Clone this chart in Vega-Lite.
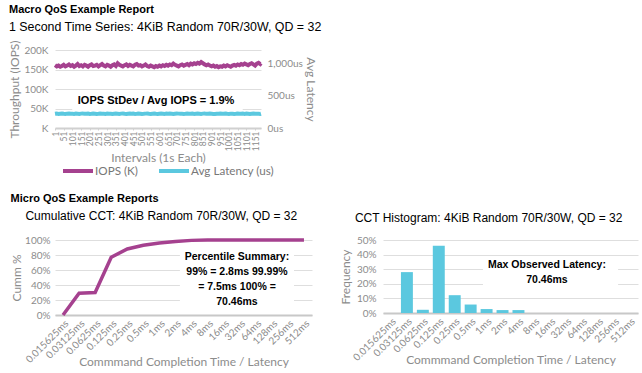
{
  "$schema": "https://vega.github.io/schema/vega-lite/v6.json",
  "background": "white",
  "padding": {"left": 8, "top": 4, "right": 2, "bottom": 2},
  "config": {
    "view": {"stroke": null},
    "font": "Lato",
    "axis": {"labelColor": "#8c8c8c", "titleColor": "#8c8c8c", "labelFont": "Lato", "titleFont": "Lato", "labelFontSize": 10, "titleFontSize": 12, "titleFontWeight": "normal", "gridColor": "#dedede", "domain": false, "ticks": false, "labelOverlap": false},
    "title": {"font": "Liberation Sans", "fontSize": 12, "fontWeight": "normal", "color": "#000000"}
  },
  "title": {"text": "Macro QoS Example Report", "subtitle": "1 Second Time Series: 4KiB Random 70R/30W, QD = 32", "anchor": "start", "frame": "bounds", "fontSize": 11, "fontWeight": "bold", "subtitleFont": "Liberation Sans", "subtitleFontSize": 12.4, "subtitleColor": "#000000", "subtitlePadding": 6, "offset": 6.5},
  "datasets": {
    "series": [
      {"t":1,"iops_k":161,"lat":218},{"t":11,"iops_k":158,"lat":222},{"t":21,"iops_k":160,"lat":216},{"t":31,"iops_k":157,"lat":220},{"t":41,"iops_k":159,"lat":224},{"t":51,"iops_k":162,"lat":219},{"t":61,"iops_k":158,"lat":215},{"t":71,"iops_k":160,"lat":221},{"t":81,"iops_k":163,"lat":223},{"t":91,"iops_k":159,"lat":218},
      {"t":101,"iops_k":161,"lat":220},{"t":111,"iops_k":157,"lat":217},{"t":121,"iops_k":160,"lat":222},{"t":131,"iops_k":164,"lat":219},{"t":141,"iops_k":159,"lat":216},{"t":151,"iops_k":161,"lat":221},{"t":161,"iops_k":158,"lat":224},{"t":171,"iops_k":162,"lat":218},{"t":181,"iops_k":160,"lat":220},{"t":191,"iops_k":157,"lat":222},
      {"t":201,"iops_k":161,"lat":217},{"t":211,"iops_k":163,"lat":219},{"t":221,"iops_k":159,"lat":223},{"t":231,"iops_k":160,"lat":220},{"t":241,"iops_k":162,"lat":216},{"t":251,"iops_k":158,"lat":218},{"t":261,"iops_k":161,"lat":222},{"t":271,"iops_k":164,"lat":221},{"t":281,"iops_k":160,"lat":219},{"t":291,"iops_k":158,"lat":217},
      {"t":301,"iops_k":162,"lat":223},{"t":311,"iops_k":160,"lat":220},{"t":321,"iops_k":157,"lat":218},{"t":331,"iops_k":161,"lat":215},{"t":341,"iops_k":163,"lat":219},{"t":351,"iops_k":159,"lat":222},{"t":361,"iops_k":166,"lat":220},{"t":371,"iops_k":162,"lat":217},{"t":381,"iops_k":160,"lat":221},{"t":391,"iops_k":158,"lat":224},
      {"t":401,"iops_k":161,"lat":219},{"t":411,"iops_k":163,"lat":216},{"t":421,"iops_k":159,"lat":220},{"t":431,"iops_k":162,"lat":223},{"t":441,"iops_k":160,"lat":218},{"t":451,"iops_k":158,"lat":221},{"t":461,"iops_k":162,"lat":217},{"t":471,"iops_k":164,"lat":219},{"t":481,"iops_k":160,"lat":222},{"t":491,"iops_k":161,"lat":220},
      {"t":501,"iops_k":158,"lat":216},{"t":511,"iops_k":160,"lat":218},{"t":521,"iops_k":163,"lat":221},{"t":531,"iops_k":159,"lat":224},{"t":541,"iops_k":157,"lat":219},{"t":551,"iops_k":160,"lat":217},{"t":561,"iops_k":158,"lat":220},{"t":571,"iops_k":156,"lat":222},{"t":581,"iops_k":159,"lat":218},{"t":591,"iops_k":157,"lat":215},
      {"t":601,"iops_k":160,"lat":219},{"t":611,"iops_k":158,"lat":223},{"t":621,"iops_k":161,"lat":220},{"t":631,"iops_k":159,"lat":217},{"t":641,"iops_k":162,"lat":221},{"t":651,"iops_k":160,"lat":218},{"t":661,"iops_k":163,"lat":222},{"t":671,"iops_k":161,"lat":219},{"t":681,"iops_k":165,"lat":216},{"t":691,"iops_k":162,"lat":220},
      {"t":701,"iops_k":160,"lat":224},{"t":711,"iops_k":158,"lat":221},{"t":721,"iops_k":161,"lat":218},{"t":731,"iops_k":163,"lat":220},{"t":741,"iops_k":160,"lat":217},{"t":751,"iops_k":162,"lat":219},{"t":761,"iops_k":164,"lat":223},{"t":771,"iops_k":161,"lat":220},{"t":781,"iops_k":165,"lat":218},{"t":791,"iops_k":163,"lat":221},
      {"t":801,"iops_k":166,"lat":216},{"t":811,"iops_k":164,"lat":219},{"t":821,"iops_k":167,"lat":222},{"t":831,"iops_k":165,"lat":220},{"t":841,"iops_k":169,"lat":217},{"t":851,"iops_k":166,"lat":221},{"t":861,"iops_k":163,"lat":224},{"t":871,"iops_k":161,"lat":218},{"t":881,"iops_k":163,"lat":219},{"t":891,"iops_k":160,"lat":222},
      {"t":901,"iops_k":158,"lat":220},{"t":911,"iops_k":160,"lat":217},{"t":921,"iops_k":157,"lat":215},{"t":931,"iops_k":159,"lat":219},{"t":941,"iops_k":156,"lat":221},{"t":951,"iops_k":158,"lat":223},{"t":961,"iops_k":157,"lat":218},{"t":971,"iops_k":160,"lat":220},{"t":981,"iops_k":158,"lat":222},{"t":991,"iops_k":161,"lat":219},
      {"t":1001,"iops_k":159,"lat":217},{"t":1011,"iops_k":157,"lat":221},{"t":1021,"iops_k":160,"lat":220},{"t":1031,"iops_k":162,"lat":216},{"t":1041,"iops_k":160,"lat":219},{"t":1051,"iops_k":163,"lat":223},{"t":1061,"iops_k":161,"lat":220},{"t":1071,"iops_k":164,"lat":218},{"t":1081,"iops_k":162,"lat":221},{"t":1091,"iops_k":165,"lat":217},
      {"t":1101,"iops_k":163,"lat":222},{"t":1111,"iops_k":161,"lat":219},{"t":1121,"iops_k":164,"lat":216},{"t":1131,"iops_k":166,"lat":220},{"t":1141,"iops_k":163,"lat":223},{"t":1151,"iops_k":160,"lat":218},{"t":1161,"iops_k":165,"lat":221},{"t":1171,"iops_k":167,"lat":219},{"t":1181,"iops_k":164,"lat":217},{"t":1185,"iops_k":166,"lat":220}
    ],
    "cct": [
      {"bin":"0.015625ms","cum":0,"freq":0},
      {"bin":"0.03125ms","cum":0.29,"freq":0.28},
      {"bin":"0.0625ms","cum":0.30,"freq":0.022},
      {"bin":"0.125ms","cum":0.77,"freq":0.46},
      {"bin":"0.25ms","cum":0.88,"freq":0.122},
      {"bin":"0.5ms","cum":0.93,"freq":0.058},
      {"bin":"1ms","cum":0.96,"freq":0.027},
      {"bin":"2ms","cum":0.98,"freq":0.02},
      {"bin":"4ms","cum":0.995,"freq":0.02},
      {"bin":"8ms","cum":1,"freq":0},
      {"bin":"16ms","cum":1,"freq":0},
      {"bin":"32ms","cum":1,"freq":0},
      {"bin":"64ms","cum":1,"freq":0},
      {"bin":"128ms","cum":1,"freq":0},
      {"bin":"256ms","cum":1,"freq":0},
      {"bin":"512ms","cum":1,"freq":0}
    ]
  },
  "spacing": 14,
  "resolve": {"scale": {"color": "independent"}, "legend": {"color": "independent"}},
  "vconcat": [
    {
      "width": 206,
      "height": 78,
      "layer": [
        {
          "layer": [
            {
              "data": {"name": "series"},
              "mark": {"type": "line", "strokeWidth": 4},
              "encoding": {
                "x": {"field": "t", "type": "quantitative", "scale": {"domain": [1, 1185], "nice": false, "zero": false},
                  "axis": {"values": [1,51,101,151,201,251,301,351,401,451,501,551,601,651,701,751,801,851,901,951,1001,1051,1101,1151], "tickCount": 50, "format": "d", "labelOverlap": false, "labelAngle": -90, "labelFontSize": 8.5, "labelPadding": 1, "title": "Intervals (1s Each)", "titlePadding": 2, "grid": false, "domain": true, "domainColor": "#d0d0d0", "domainWidth": 2, "ticks": true, "tickColor": "#d0d0d0", "tickSize": 2}},
                "y": {"field": "iops_k", "type": "quantitative", "scale": {"domain": [0, 200], "nice": false},
                  "axis": {"values": [0, 50, 100, 150, 200], "tickCount": 20, "labelOverlap": false, "labelExpr": "datum.value == 0 ? 'K' : datum.value + 'K'", "title": "Throughput (IOPS)", "titlePadding": 2, "labelPadding": 7, "grid": true}},
                "color": {"datum": "IOPS (K)", "type": "nominal", "scale": {"domain": ["IOPS (K)", "Avg Latency (us)"], "range": ["#A5418F", "#5BC8DF"]},
                  "legend": {"orient": "none", "legendX": 16, "legendY": 114, "padding": 0, "direction": "horizontal", "title": null, "symbolType": "M-3,0H3", "symbolStrokeWidth": 4, "symbolSize": 100, "labelOffset": 10, "labelFontSize": 11.7, "labelColor": "#777777", "labelFont": "Lato", "columnPadding": 13}}
              }
            },
            {
              "data": {"values": [{}]},
              "mark": {"type": "rect", "color": "white"},
              "encoding": {
                "x": {"datum": 100, "type": "quantitative"},
                "x2": {"datum": 1080},
                "y": {"datum": 44, "type": "quantitative"},
                "y2": {"datum": 90}
              }
            },
            {
              "data": {"values": [{}]},
              "mark": {"type": "text", "font": "Liberation Sans", "fontWeight": "bold", "fontSize": 11, "color": "#000000"},
              "encoding": {
                "x": {"datum": 582, "type": "quantitative"},
                "y": {"datum": 70, "type": "quantitative"},
                "text": {"value": "IOPS StDev / Avg IOPS = 1.9%"}
              }
            }
          ]
        },
        {
          "data": {"name": "series"},
          "mark": {"type": "line", "strokeWidth": 4},
          "encoding": {
            "x": {"field": "t", "type": "quantitative"},
            "y": {"field": "lat", "type": "quantitative", "scale": {"domain": [0, 1200], "nice": false},
              "axis": {"orient": "right", "values": [0, 500, 1000], "tickCount": 20, "labelOverlap": false, "labelExpr": "format(datum.value, ',') + 'us'", "title": "Avg Latency", "titlePadding": 1, "labelPadding": 6, "grid": false}},
            "color": {"datum": "Avg Latency (us)", "type": "nominal"}
          }
        }
      ],
      "resolve": {"scale": {"y": "independent"}}
    },
    {
      "title": {"text": "Micro QoS Example Reports", "anchor": "start", "frame": "bounds", "fontSize": 11, "fontWeight": "bold", "offset": 6},
      "spacing": 27,
      "hconcat": [
        {
          "width": 257,
          "height": 75,
          "title": {"text": "Cumulative CCT: 4KiB Random 70R/30W, QD = 32", "anchor": "middle", "frame": "bounds", "offset": 10},
          "layer": [
            {
              "data": {"name": "cct"},
              "mark": {"type": "line", "color": "#A5418F", "strokeWidth": 3.5},
              "encoding": {
                "x": {"field": "bin", "type": "nominal", "sort": null, "scale": {"type": "point", "padding": 0.5},
                  "axis": {"labelAngle": -45, "labelOverlap": false, "labelFontSize": 10, "labelPadding": 3, "title": "Commmand Completion Time / Latency", "titlePadding": -8, "domain": true, "domainColor": "#c8c8c8", "domainWidth": 2}},
                "y": {"field": "cum", "type": "quantitative", "scale": {"domain": [0, 1], "nice": false},
                  "axis": {"values": [0, 0.2, 0.4, 0.6, 0.8, 1], "tickCount": 20, "labelOverlap": false, "format": ".0%", "title": "Cumm %", "titlePadding": 1, "labelPadding": 5, "grid": true}}
              }
            },
            {
              "data": {"values": [{}]},
              "mark": {"type": "rect", "color": "white"},
              "encoding": {
                "x": {"datum": 0.486, "type": "quantitative", "scale": {"domain": [0, 1]}, "axis": null},
                "x2": {"datum": 0.93},
                "y": {"datum": 0.11, "type": "quantitative"},
                "y2": {"datum": 0.897}
              }
            },
            {
              "data": {"values": [{}]},
              "mark": {"type": "text", "font": "Liberation Sans", "fontWeight": "bold", "fontSize": 10.5, "lineHeight": 15, "color": "#000000", "baseline": "middle"},
              "encoding": {
                "x": {"datum": 0.708, "type": "quantitative", "scale": {"domain": [0, 1]}, "axis": null},
                "y": {"datum": 0.78, "type": "quantitative"},
                "text": {"value": ["Percentile Summary:", "99% = 2.8ms 99.99%", "= 7.5ms 100% =", "70.46ms"]}
              }
            }
          ],
          "resolve": {"scale": {"x": "independent"}}
        },
        {
          "width": 255,
          "height": 73,
          "title": {"text": "CCT Histogram: 4KiB Random 70R/30W, QD = 32", "anchor": "middle", "frame": "bounds", "offset": 10},
          "layer": [
            {
              "data": {"name": "cct"},
              "mark": {"type": "bar", "color": "#5BC8DF"},
              "encoding": {
                "x": {"field": "bin", "type": "nominal", "sort": null, "scale": {"paddingInner": 0.25, "paddingOuter": 0.125},
                  "axis": {"labelAngle": -45, "labelOverlap": false, "labelFontSize": 10, "labelPadding": 3, "title": "Commmand Completion Time / Latency", "titlePadding": -8, "domain": true, "domainColor": "#c8c8c8", "domainWidth": 2}},
                "y": {"field": "freq", "type": "quantitative", "scale": {"domain": [0, 0.5], "nice": false},
                  "axis": {"values": [0, 0.1, 0.2, 0.3, 0.4, 0.5], "tickCount": 20, "labelOverlap": false, "format": ".0%", "title": "Frequency", "titlePadding": 4, "labelPadding": 7, "grid": true}}
              }
            },
            {
              "data": {"values": [{}]},
              "mark": {"type": "rect", "color": "white"},
              "encoding": {
                "x": {"datum": 0.392, "type": "quantitative", "scale": {"domain": [0, 1]}, "axis": null},
                "x2": {"datum": 0.922},
                "y": {"datum": 0.153, "type": "quantitative"},
                "y2": {"datum": 0.365}
              }
            },
            {
              "data": {"values": [{}]},
              "mark": {"type": "text", "font": "Liberation Sans", "fontWeight": "bold", "fontSize": 10.5, "lineHeight": 15, "color": "#000000", "baseline": "middle"},
              "encoding": {
                "x": {"datum": 0.643, "type": "quantitative", "scale": {"domain": [0, 1]}, "axis": null},
                "y": {"datum": 0.331, "type": "quantitative"},
                "text": {"value": ["Max Observed Latency:", "70.46ms"]}
              }
            }
          ],
          "resolve": {"scale": {"x": "independent"}}
        }
      ]
    }
  ]
}
